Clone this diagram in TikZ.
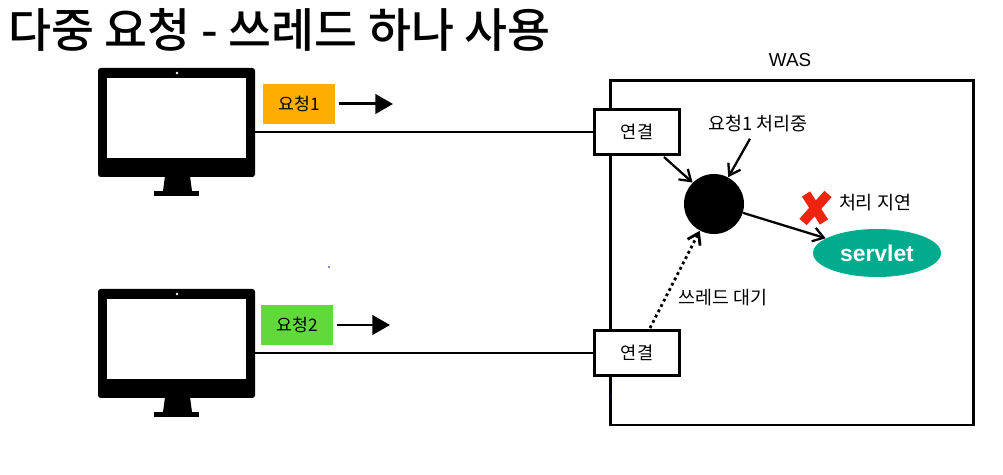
\documentclass[tikz,border=0pt]{standalone}
\usepackage{fontspec}
\setmainfont{Noto Sans CJK KR}
\newfontfamily\titlefont{Noto Sans CJK KR Medium}
\newfontfamily\latinfont{Liberation Sans}
\usetikzlibrary{arrows.meta, positioning, calc, shapes.geometric}
\definecolor{ReqOrange}{HTML}{FFAE00}
\definecolor{ReqGreen}{HTML}{62D93B}
\definecolor{ServletGreen}{HTML}{00AB8E}
\definecolor{CrossRed}{HTML}{EE2410}
\tikzset{
  monitor/.style={fill=black, rounded corners=1.5pt, minimum width=157*0.02cm, minimum height=109*0.02cm, inner sep=0pt},
  reqbox/.style={minimum width=72*0.02cm, minimum height=40*0.02cm, inner sep=0pt, font=\fontsize{9.8}{11}\selectfont},
  connbox/.style={draw, fill=white, line width=1.7pt, minimum width=85*0.02cm, minimum height=45*0.02cm, inner sep=0pt, font=\fontsize{10}{11}\selectfont},
  label/.style={inner sep=0pt, font=\fontsize{10.5}{12}\selectfont},
  wire/.style={line width=1.3pt},
  flow/.style={-{Straight Barb[length=6pt,width=8pt]}, line width=1.3pt},
  sendarrow/.style={-{Triangle[length=10pt,width=11pt]}, line width=1.7pt}
}
\begin{document}
\begin{tikzpicture}[x=0.02cm, y=-0.02cm]
    \useasboundingbox (0,0) rectangle (1003,475);
    \node[anchor=west, inner sep=0pt, font=\fontsize{26.6}{30}\selectfont\titlefont] (title) at (8,30) {다중 요청 - 쓰레드 하나 사용};

    % WAS
    \draw[line width=1.7pt] (610,81) rectangle (973,425);
    \node[inner sep=0pt, font=\fontsize{10.7}{12}\selectfont\latinfont] (was) at (790,60) {WAS};

    % monitors
    \foreach \name/\yy in {mon1/0, mon2/221} {
        \node[monitor] (\name) at (176.5,122.5+\yy) {};
        \fill[white] (107,78+\yy) rectangle (246,158+\yy);
        \fill[white] (177,73+\yy) circle (1.3);
        \fill[black] (165,176+\yy) -- (190,176+\yy) -- (192,191+\yy) -- (163,191+\yy) -- cycle;
        \fill[black] (154,191+\yy) rectangle (199,196+\yy);
    }

    % requests
    \node[reqbox, fill=ReqOrange] (req1) at (299,104) {요청1};
    \node[reqbox, fill=ReqGreen] (req2) at (297,325) {요청2};
    \coordinate[right=4*0.02cm of req1.east] (go1);
    \coordinate (go1end) at (393,104);
    \coordinate[right=4*0.02cm of req2.east] (go2);
    \coordinate (go2end) at (390,325);
    \draw[sendarrow] (go1) -- (go1end);
    \draw[sendarrow] (go2) -- (go2end);

    % connections
    \node[connbox] (conn1) at (637,132) {연결};
    \node[connbox] (conn2) at (637,353) {연결};
    \draw[wire] (mon1.east |- conn1.west) -- (conn1.west);
    \draw[wire] (mon2.east |- conn2.west) -- (conn2.west);

    % thread
    \node[circle, fill=black, minimum size=60*0.02cm, inner sep=0pt] (thread) at (714,204) {};
    \node[label] (busy) at (758,124) {요청1 처리중};
    \node[label] (wait) at (723,298) {쓰레드 대기};
    \node[label] (delay) at (875,203) {처리 지연};
    \node[ellipse, fill=ServletGreen, text=white, minimum width=128*0.02cm, minimum height=48*0.02cm, inner sep=0pt, font=\fontsize{13}{15}\selectfont\bfseries\latinfont] (servlet) at (877,253) {servlet};

    \draw[flow] (conn1.south east) ++(-17,1) coordinate (c1out) -- (thread.135);
    \draw[flow] (busy.south) ++(-8,6) coordinate (busyout) -- (thread.62);
    \draw[flow] (thread.-17) -- (servlet.164);
    \draw[flow, dash pattern=on 1.6pt off 1.8pt, line width=1.6pt] (conn2.north) ++(13,-1) coordinate (c2out) -- (thread.-118);

    % cross
    \draw[CrossRed, line width=5.5pt] (803,222) -- (828,194);
    \draw[CrossRed, line width=5.5pt] (806,194) -- (824,222);

    % stray dots
    \fill[blue!80!black] (329,267) circle (0.8);
    \fill[blue!80!black] (611,397) circle (0.8);
\end{tikzpicture}
\end{document}
